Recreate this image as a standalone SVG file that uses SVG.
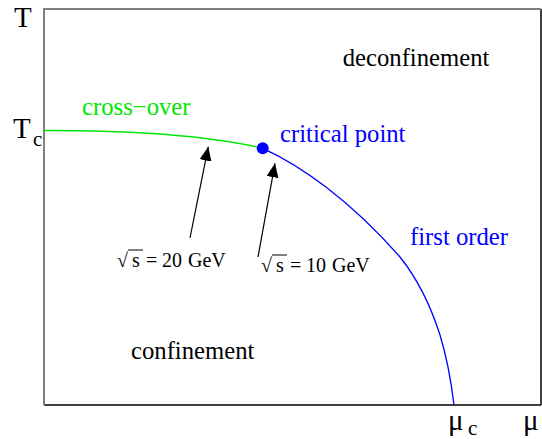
<svg xmlns="http://www.w3.org/2000/svg" width="542" height="439" viewBox="0 0 542 439">
<style>
text{font-family:"Liberation Serif","Times New Roman",serif;}
.lbl{font-size:24.7px;}
.ax{font-size:29px;fill:#000;}
.sub{font-size:21px;fill:#000;}
.blue{fill:#0000ff;}
.green{fill:#00e600;}
.arr{font-size:20px;fill:#000;}
</style>
<defs>
<marker id="ah" viewBox="0 0 14 12" refX="14" refY="6" markerWidth="14" markerHeight="12" markerUnits="userSpaceOnUse" orient="auto">
<path d="M0,0 L14,6 L0,12 z" fill="#000"/>
</marker>
</defs>
<g id="frame">
<line x1="44" y1="405" x2="541" y2="405" stroke="#000" stroke-width="1.5"/>
<line x1="541" y1="9" x2="541" y2="405" stroke="#000" stroke-width="1.5"/>
<line x1="44" y1="9" x2="541" y2="9" stroke="#808080" stroke-width="2"/>
<line x1="44" y1="8" x2="44" y2="405" stroke="#808080" stroke-width="2"/>
</g>
<g id="axis-labels">
<text class="ax" x="14" y="27">T</text>
<text class="ax" x="13" y="138">T</text>
<text class="sub" x="33" y="146">c</text>
<text class="ax" x="448" y="430">μ</text>
<text class="sub" x="468" y="435">c</text>
<text class="ax" x="523" y="430">μ</text>
</g>
<g id="connectors">
<path id="crossover-line" d="M44,130.5 C150,130.5 220,138 262.7,148.3" fill="none" stroke="#00e600" stroke-width="1.3"/>
<path id="first-order-line" d="M262.7,148.3 C300,165 350,200 400,257 C420,282 432,310 440,335 C447,358 451,380 454,405" fill="none" stroke="#0000ff" stroke-width="1.3"/>
<line x1="190" y1="238" x2="208.3" y2="146.7" stroke="#000" stroke-width="1.2" marker-end="url(#ah)"/>
<line x1="258" y1="257" x2="275" y2="163.3" stroke="#000" stroke-width="1.2" marker-end="url(#ah)"/>
</g>
<g id="critical-point">
<circle cx="262.7" cy="148.3" r="6" fill="#0000ff"/>
<text class="lbl blue" x="280" y="141.5">critical point</text>
</g>
<g id="deconfinement">
<text class="lbl" x="342.7" y="65.5">deconfinement</text>
</g>
<g id="crossover">
<text class="lbl green" x="82" y="114.5">cross−over</text>
</g>
<g id="first-order">
<text class="lbl blue" x="410" y="245">first order</text>
</g>
<g id="confinement">
<text class="lbl" x="131" y="359">confinement</text>
</g>
<g id="label-20">
<text class="arr" y="267"><tspan x="117">√</tspan><tspan x="132">s</tspan><tspan x="146">=</tspan><tspan x="162">20</tspan><tspan x="188">GeV</tspan></text>
<line x1="128" y1="250" x2="143" y2="250" stroke="#000" stroke-width="1"/>
</g>
<g id="label-10">
<text class="arr" y="272"><tspan x="261">√</tspan><tspan x="276">s</tspan><tspan x="290">=</tspan><tspan x="306">10</tspan><tspan x="332">GeV</tspan></text>
<line x1="272" y1="255" x2="287" y2="255" stroke="#000" stroke-width="1"/>
</g>
</svg>
